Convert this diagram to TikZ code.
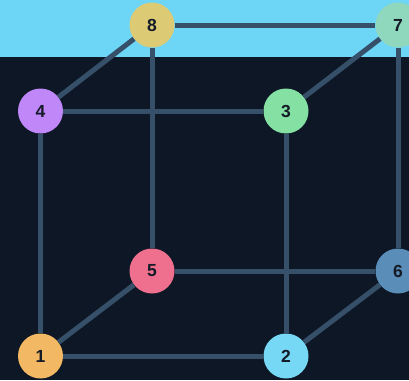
\documentclass[tikz,border=0pt]{standalone}
\usepackage{fontspec}
\setmainfont{Liberation Sans}
\definecolor{bg}{HTML}{0D1725}
\definecolor{band}{HTML}{6DD5F5}
\definecolor{edge}{HTML}{36506A}
\definecolor{txt}{HTML}{141A26}
\definecolor{c1}{HTML}{F2B863}
\definecolor{c2}{HTML}{76D8F5}
\definecolor{c3}{HTML}{85E0A3}
\definecolor{c4}{HTML}{BF87F7}
\definecolor{c5}{HTML}{EF6F8F}
\definecolor{c6}{HTML}{5A8DB8}
\definecolor{c7}{HTML}{8FD8BE}
\definecolor{c8}{HTML}{DCCB74}
\tikzset{
  vertex/.style={circle, minimum size=45pt, inner sep=0pt, text=txt, font=\fontsize{17.5}{19}\selectfont\bfseries},
  link/.style={draw=edge, line width=5pt}
}
\begin{document}
\begin{tikzpicture}[x=1pt,y=-1pt]
\useasboundingbox (0,0) rectangle (409,380);
\fill[bg] (0,0) rectangle (409,380);
\fill[band] (0,0) rectangle (409,57);
\node[vertex, fill=c8] (n8) at (152,25) {8};
\node[vertex, fill=c7] (n7) at (398,25) {7};
\node[vertex, fill=c4] (n4) at (40.5,111) {4};
\node[vertex, fill=c3] (n3) at (286,111) {3};
\node[vertex, fill=c5] (n5) at (152,271) {5};
\node[vertex, fill=c6] (n6) at (398,271) {6};
\node[vertex, fill=c1] (n1) at (40.5,356) {1};
\node[vertex, fill=c2] (n2) at (286,356) {2};
\draw[link] (n8) -- (n7);
\draw[link] (n8) -- (n4);
\draw[link] (n7) -- (n3);
\draw[link] (n4) -- (n3);
\draw[link] (n8) -- (n5);
\draw[link] (n7) -- (n6);
\draw[link] (n4) -- (n1);
\draw[link] (n3) -- (n2);
\draw[link] (n5) -- (n6);
\draw[link] (n5) -- (n1);
\draw[link] (n6) -- (n2);
\draw[link] (n1) -- (n2);
\end{tikzpicture}
\end{document}
